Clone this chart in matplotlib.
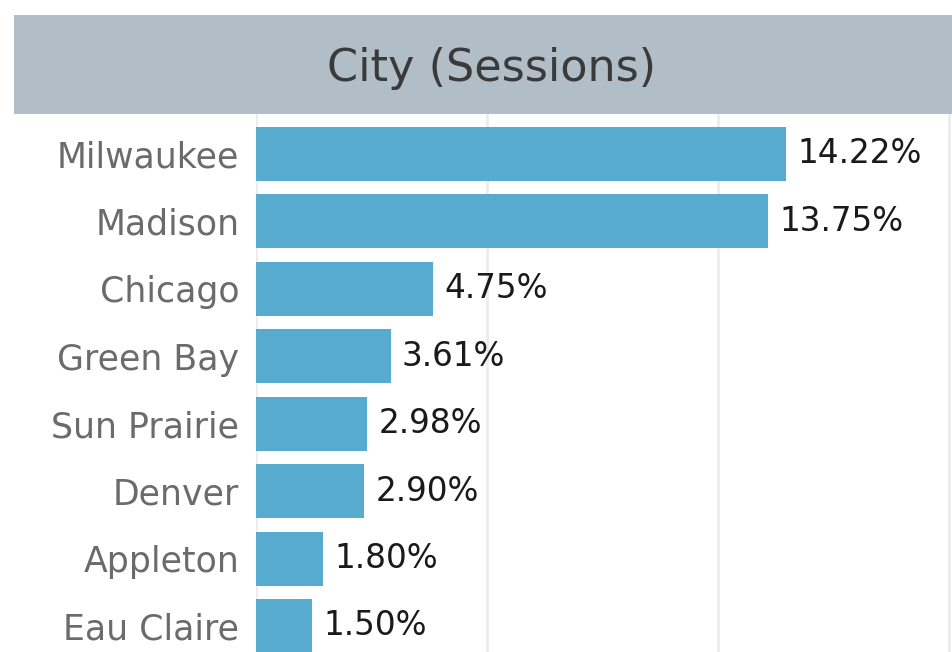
import matplotlib
matplotlib.use("Agg")
import matplotlib.pyplot as plt
from matplotlib.patches import Rectangle

cities = ["Milwaukee", "Madison", "Chicago", "Green Bay", "Sun Prairie",
          "Denver", "Appleton", "Eau Claire"]
shares = [14.22, 13.75, 4.75, 3.61, 2.98, 2.90, 1.80, 1.50]
grid_ticks = [0, 6.2, 12.4, 18.6]
title = "City (Sessions)"

W, H = 953, 652
fig = plt.figure(figsize=(W / 100, H / 100), dpi=100)
fig.patch.set_facecolor("white")

# header band
hdr_top, hdr_bot = 15, 114
fig.patches.append(Rectangle((14 / W, 1 - hdr_bot / H), 1 - 14 / W,
                             (hdr_bot - hdr_top) / H,
                             transform=fig.transFigure, facecolor="#b1bec8",
                             edgecolor="none", zorder=0))
fig.text(492 / W, 1 - 68 / H, title, ha="center", va="center",
         fontsize=32, color="#3a3a3a", family="DejaVu Sans")

ax = fig.add_axes([256 / W, 0, 1 - 256 / W, 1 - hdr_bot / H])
y = list(range(len(cities)))
ax.barh(y, shares, height=0.8, color="#56abce", zorder=2)
ax.set_xlim(0, 18.7)
ax.set_ylim(7.386, -0.593)
ax.set_xticks(grid_ticks)
ax.set_xticklabels([])
ax.tick_params(axis="x", length=0)
ax.xaxis.grid(True, color="#ececec", linewidth=2, zorder=0)
ax.set_axisbelow(True)
ax.set_yticks(y)
ax.set_yticklabels(cities, fontsize=25, color="#6b6b6b")
ax.tick_params(axis="y", length=0, pad=12)
for s in ax.spines.values():
    s.set_visible(False)

for yi, v in zip(y, shares):
    ax.annotate(f"{v:.2f}%", (v, yi), xytext=(8, 0), textcoords="offset points",
                va="center", ha="left", fontsize=23.5, color="#1a1a1a")

fig.savefig("out.png", dpi=100)
